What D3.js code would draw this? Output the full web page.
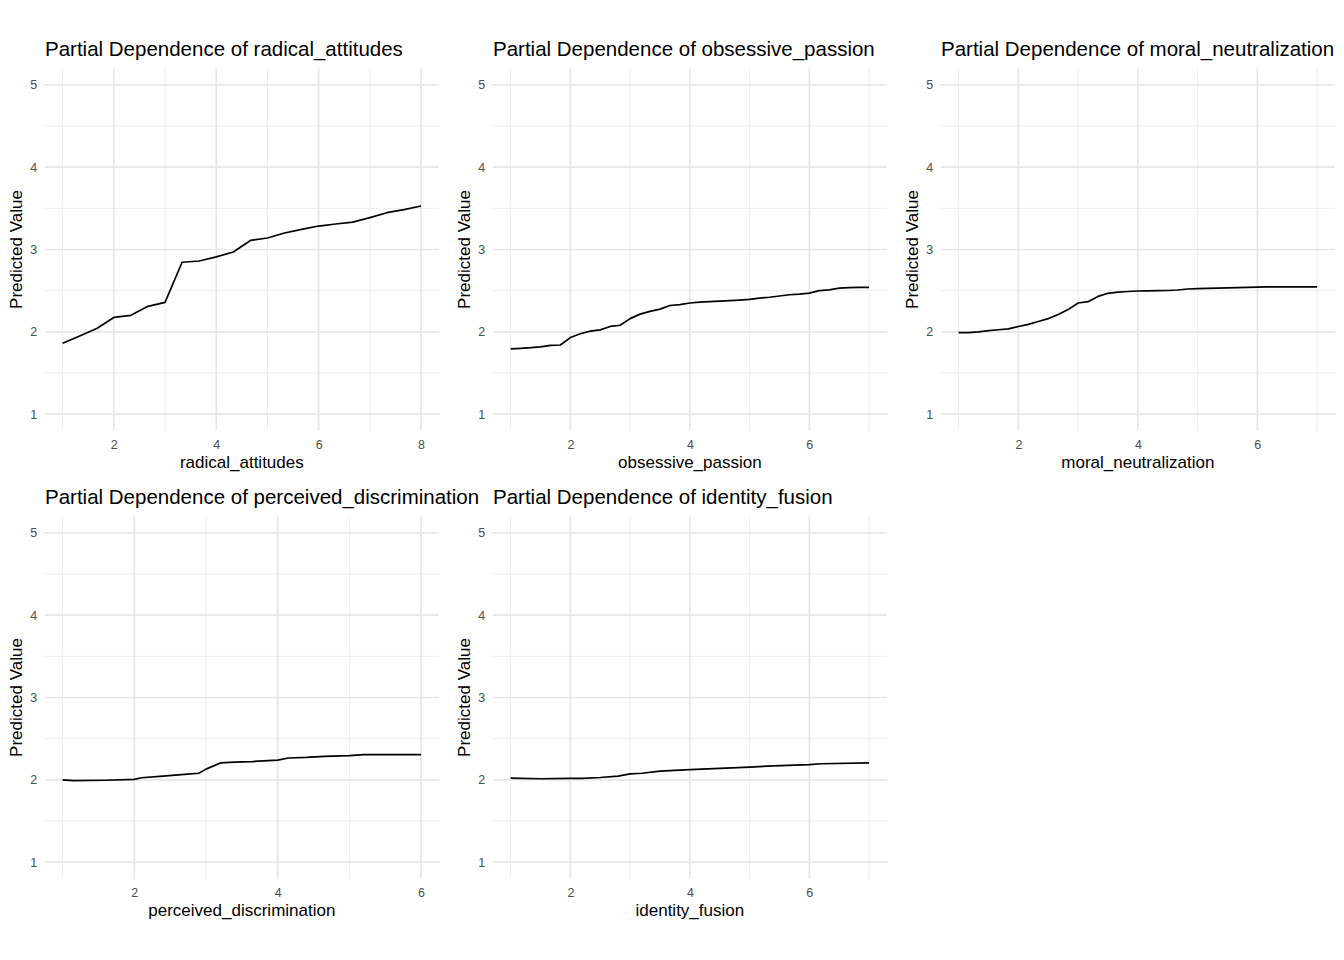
<!DOCTYPE html>
<html>
<head>
<meta charset="utf-8">
<script src="https://cdn.jsdelivr.net/npm/d3@7"></script>
<style>
  html, body { margin: 0; padding: 0; background: #ffffff; }
  svg { display: block; font-family: "Liberation Sans", Arial, Helvetica, sans-serif; }
</style>
</head>
<body>
<svg id="chart" width="1344" height="960"></svg>
<script>
// ---- data ----
const features = ["radical_attitudes", "obsessive_passion", "moral_neutralization", "perceived_discrimination", "identity_fusion"];

const radicalAttitudesX = [1, 1.333, 1.667, 2, 2.333, 2.667, 3, 3.333, 3.667, 4, 4.333, 4.667, 5, 5.333, 5.667, 6, 6.333, 6.667, 7, 7.333, 7.667, 8];
const radicalAttitudesY = [1.86, 1.95, 2.04, 2.175, 2.2, 2.31, 2.357, 2.845, 2.86, 2.91, 2.97, 3.11, 3.14, 3.2, 3.244, 3.285, 3.31, 3.333, 3.387, 3.447, 3.484, 3.528];

const obsessivePassionX = [1, 1.167, 1.333, 1.5, 1.667, 1.833, 2, 2.167, 2.333, 2.5, 2.667, 2.833, 3, 3.167, 3.333, 3.5, 3.667, 3.833, 4, 4.167, 4.333, 4.5, 4.667, 4.833, 5, 5.167, 5.333, 5.5, 5.667, 5.833, 6, 6.167, 6.333, 6.5, 6.667, 6.833, 7];
const obsessivePassionY = [1.793, 1.8, 1.807, 1.817, 1.835, 1.84, 1.93, 1.976, 2.008, 2.024, 2.065, 2.08, 2.16, 2.215, 2.248, 2.276, 2.32, 2.33, 2.35, 2.36, 2.367, 2.372, 2.378, 2.385, 2.394, 2.41, 2.42, 2.435, 2.45, 2.458, 2.47, 2.5, 2.51, 2.53, 2.537, 2.54, 2.54];

const moralNeutralizationX = [1, 1.167, 1.333, 1.5, 1.667, 1.833, 2, 2.167, 2.333, 2.5, 2.667, 2.833, 3, 3.167, 3.333, 3.5, 3.667, 3.833, 4, 4.167, 4.333, 4.5, 4.667, 4.833, 5, 5.167, 5.333, 5.5, 5.667, 5.833, 6, 6.167, 6.333, 6.5, 6.667, 6.833, 7];
const moralNeutralizationY = [1.99, 1.99, 2.0, 2.015, 2.025, 2.035, 2.065, 2.09, 2.125, 2.16, 2.21, 2.27, 2.35, 2.366, 2.43, 2.468, 2.483, 2.49, 2.496, 2.498, 2.5, 2.502, 2.508, 2.52, 2.524, 2.528, 2.53, 2.534, 2.537, 2.54, 2.543, 2.545, 2.545, 2.545, 2.545, 2.545, 2.545];

const perceivedDiscriminationX = [1, 1.15, 1.6, 2.0, 2.1, 2.4, 2.7, 2.9, 3.0, 3.2, 3.4, 3.65, 4.0, 4.15, 4.4, 4.65, 5.0, 5.2, 6.0];
const perceivedDiscriminationY = [2.0, 1.99, 1.995, 2.005, 2.025, 2.045, 2.065, 2.08, 2.13, 2.205, 2.215, 2.222, 2.24, 2.265, 2.272, 2.285, 2.295, 2.305, 2.305];

const identityFusionX = [1, 1.5, 2.0, 2.2, 2.5, 2.8, 3.0, 3.2, 3.5, 4.0, 4.5, 5.0, 5.4, 6.0, 6.2, 7.0];
const identityFusionY = [2.02, 2.013, 2.017, 2.018, 2.028, 2.045, 2.072, 2.08, 2.105, 2.125, 2.14, 2.155, 2.17, 2.185, 2.195, 2.205];

const xSeries = [radicalAttitudesX, obsessivePassionX, moralNeutralizationX, perceivedDiscriminationX, identityFusionX];
const ySeries = [radicalAttitudesY, obsessivePassionY, moralNeutralizationY, perceivedDiscriminationY, identityFusionY];
const xTickSets = [[2, 4, 6, 8], [2, 4, 6], [2, 4, 6], [2, 4, 6], [2, 4, 6]];
const yTicks = [1, 2, 3, 4, 5];
const yTitle = "Predicted Value";
const titlePrefix = "Partial Dependence of ";

// ---- layout ----
const svg = d3.select("#chart");
svg.append("rect").attr("width", 1344).attr("height", 960).attr("fill", "#ffffff");

const cellW = 448, cellH = 448;
const plotL = 44.7, plotR = 439.0, plotT = 68.4, plotB = 430.6;
const FONT = "Liberation Sans, Arial, Helvetica, sans-serif";

features.forEach((name, i) => {
  const col = i % 3, row = Math.floor(i / 3);
  const ox = col * cellW, oy = row * cellH;
  const g = svg.append("g").attr("transform", `translate(${ox},${oy})`);

  const xs = xSeries[i], ys = ySeries[i];
  const xmin = d3.min(xs), xmax = d3.max(xs);
  const xpad = (xmax - xmin) * 0.05;
  const x = d3.scaleLinear().domain([xmin - xpad, xmax + xpad]).range([plotL, plotR]);
  const y = d3.scaleLinear().domain([0.8, 5.2]).range([plotB, plotT]);

  const xt = xTickSets[i];
  const xMinor = [];
  for (let k = 0; k <= xt.length; k++) {
    const v = (k === 0) ? xt[0] - 1 : xt[k - 1] + 1;
    if (v >= x.domain()[0] && v <= x.domain()[1]) xMinor.push(v);
  }
  const yMinor = [1.5, 2.5, 3.5, 4.5];

  // minor grid
  g.append("g").selectAll("line").data(yMinor).join("line")
    .attr("x1", plotL).attr("x2", plotR)
    .attr("y1", d => y(d)).attr("y2", d => y(d))
    .attr("stroke", "#ebebeb").attr("stroke-width", 0.9);
  g.append("g").selectAll("line").data(xMinor).join("line")
    .attr("y1", plotT).attr("y2", plotB)
    .attr("x1", d => x(d)).attr("x2", d => x(d))
    .attr("stroke", "#ebebeb").attr("stroke-width", 0.9);
  // major grid
  g.append("g").selectAll("line").data(yTicks).join("line")
    .attr("x1", plotL).attr("x2", plotR)
    .attr("y1", d => y(d)).attr("y2", d => y(d))
    .attr("stroke", "#e6e6e6").attr("stroke-width", 1.7);
  g.append("g").selectAll("line").data(xt).join("line")
    .attr("y1", plotT).attr("y2", plotB)
    .attr("x1", d => x(d)).attr("x2", d => x(d))
    .attr("stroke", "#e6e6e6").attr("stroke-width", 1.7);

  // axes (labels only)
  const xAxis = d3.axisBottom(x).tickValues(xt).tickSize(0).tickPadding(0).tickFormat(d3.format("d"));
  const xa = g.append("g").attr("transform", `translate(0,${plotB + 9.5})`).call(xAxis);
  xa.attr("font-size", 12.5).attr("font-family", FONT);
  xa.select(".domain").remove();
  xa.selectAll("text").attr("fill", "#4d4d4d");

  const yAxis = d3.axisLeft(y).tickValues(yTicks).tickSize(0).tickPadding(0).tickFormat(d3.format("d"));
  const ya = g.append("g").attr("transform", `translate(${plotL - 7.5},0)`).call(yAxis);
  ya.attr("font-size", 12.5).attr("font-family", FONT);
  ya.select(".domain").remove();
  ya.selectAll("text").attr("fill", "#4d4d4d");

  // line
  const pts = xs.map((v, k) => [v, ys[k]]);
  g.append("path").datum(pts)
    .attr("fill", "none").attr("stroke", "#000000").attr("stroke-width", 1.7)
    .attr("stroke-linejoin", "round")
    .attr("d", d3.line().x(d => x(d[0])).y(d => y(d[1])));

  // titles
  g.append("text").attr("x", plotL + 0.3).attr("y", 55.5)
    .attr("font-size", 20.5).attr("fill", "#000").text(titlePrefix + name);
  g.append("text").attr("x", (plotL + plotR) / 2).attr("y", 468)
    .attr("text-anchor", "middle").attr("font-size", 17).attr("fill", "#000").text(name);
  g.append("text").attr("transform", `translate(21.5,${(plotT + plotB) / 2}) rotate(-90)`)
    .attr("text-anchor", "middle").attr("font-size", 17).attr("fill", "#000").text(yTitle);
});
</script>
</body>
</html>
